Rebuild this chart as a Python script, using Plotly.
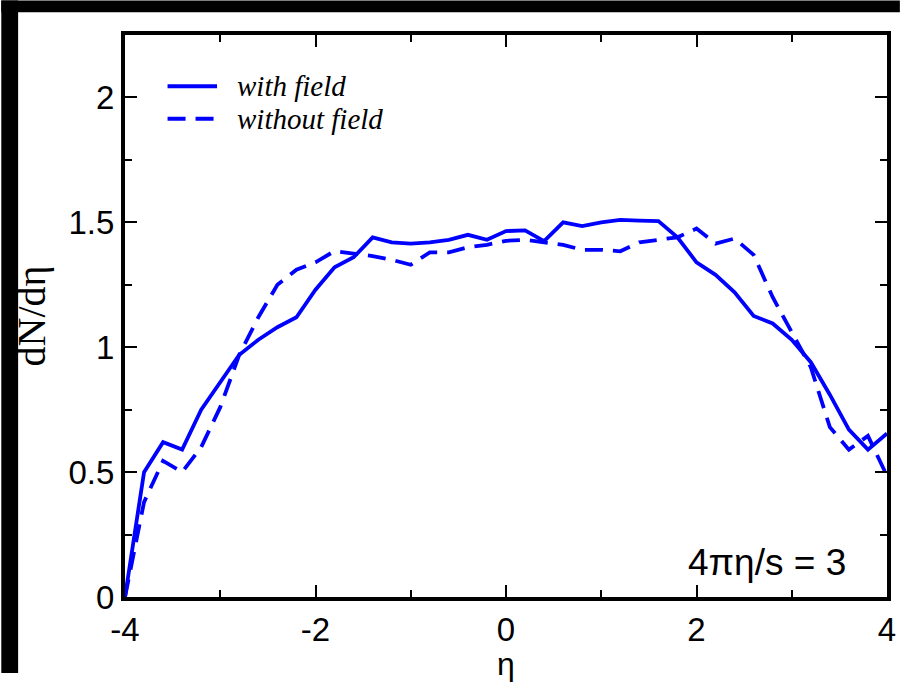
import plotly.graph_objects as go

# ---- data ----
eta = [-4.0, -3.8, -3.6, -3.4, -3.2, -3.0, -2.8, -2.6, -2.4, -2.2, -2.0, -1.8, -1.6, -1.4,
       -1.2, -1.0, -0.8, -0.6, -0.4, -0.2, 0.0, 0.2, 0.4, 0.6, 0.8, 1.0, 1.2, 1.4, 1.6,
       1.8, 2.0, 2.2, 2.4, 2.6, 2.8, 3.0, 3.2, 3.4, 3.6, 3.8, 4.0]
with_field = [0.0, 0.50, 0.62, 0.59, 0.75, 0.86, 0.97, 1.03, 1.08, 1.12, 1.23, 1.32, 1.36, 1.44,
              1.42, 1.415, 1.42, 1.43, 1.45, 1.43, 1.465, 1.468, 1.425, 1.50, 1.485, 1.50, 1.51, 1.507, 1.505,
              1.44, 1.34, 1.29, 1.22, 1.125, 1.095, 1.03, 0.94, 0.81, 0.67, 0.59, 0.655]
without_field = [0.0, 0.38, 0.545, 0.50, 0.60, 0.76, 0.97, 1.12, 1.25, 1.31, 1.34, 1.385, 1.375, 1.365,
                 1.35, 1.33, 1.38, 1.38, 1.40, 1.41, 1.426, 1.43, 1.42, 1.41, 1.39, 1.39, 1.384, 1.42, 1.43,
                 1.44, 1.475, 1.415, 1.435, 1.37, 1.20, 1.06, 0.92, 0.68, 0.59, 0.645, 0.485]
series_names = ["with field", "without field"]
x_ticks = [-4, -2, 0, 2, 4]
y_ticks = [0, 0.5, 1, 1.5, 2]
y_ticklabels = ["0", "0.5", "1", "1.5", "2"]
annotation_text = "4πη/s = 3"

W, H = 908, 682
L, R, T, B = 125, 895, 35, 605   # plot area in pixels


def px(xp):
    return (xp - L) / (R - L)


def py(yp):
    return (B - yp) / (B - T)


BLUE = "#0000ff"
SANS = "Liberation Sans"
SERIF = "Liberation Serif"
fig = go.Figure()
fig.add_trace(go.Scatter(x=eta, y=with_field, mode="lines", name=series_names[0],
                         line=dict(color=BLUE, width=3.8), showlegend=False))
fig.add_trace(go.Scatter(x=eta, y=without_field, mode="lines", name=series_names[1],
                         line=dict(color=BLUE, width=3.8, dash="18px,10px"), showlegend=False))

axis_common = dict(showgrid=False, zeroline=False, showline=True, linecolor="black", linewidth=4,
                   mirror="ticks", ticks="inside", tickcolor="black", tickwidth=1.5, ticklen=12,
                   tickfont=dict(family=SANS, size=33, color="black"))
fig.update_xaxes(range=[-4, 4], tickvals=x_ticks, ticktext=[str(v) for v in x_ticks],
                 minor=dict(dtick=1, ticks="inside", ticklen=7, tickcolor="black", tickwidth=1.5),
                 title=dict(text="η", font=dict(family=SANS, size=32, color="black"), standoff=0),
                 **axis_common)
fig.update_yaxes(range=[0, 2.25], tickvals=y_ticks, ticktext=y_ticklabels,
                 minor=dict(dtick=0.25, ticks="inside", ticklen=7, tickcolor="black", tickwidth=1.5),
                 title=dict(text="dN/dη", font=dict(family=SERIF, size=40, color="black"), standoff=12),
                 **axis_common)

shapes = []
# legend samples
shapes.append(dict(type="line", xref="paper", yref="paper", x0=px(168), x1=px(218), y0=py(87), y1=py(87),
                   line=dict(color=BLUE, width=4)))
shapes.append(dict(type="line", xref="paper", yref="paper", x0=px(168), x1=px(218), y0=py(120), y1=py(120),
                   line=dict(color=BLUE, width=4, dash="18px,10px")))
# black scan borders
shapes.append(dict(type="rect", xref="paper", yref="paper", x0=px(0), x1=px(908), y0=py(12), y1=py(0),
                   fillcolor="black", line=dict(width=0), layer="above"))
shapes.append(dict(type="rect", xref="paper", yref="paper", x0=px(0), x1=px(17), y0=py(682), y1=py(0),
                   fillcolor="black", line=dict(width=0), layer="above"))

annotations = [
    dict(xref="paper", yref="paper", x=px(236), y=py(87), text="with field", showarrow=False,
         xanchor="left", yanchor="middle",
         font=dict(family=SERIF, size=29, color="black", style="italic")),
    dict(xref="paper", yref="paper", x=px(236), y=py(120), text="without field", showarrow=False,
         xanchor="left", yanchor="middle",
         font=dict(family=SERIF, size=29, color="black", style="italic")),
    dict(xref="paper", yref="paper", x=px(856), y=py(570), text=annotation_text, showarrow=False,
         xanchor="right", yanchor="middle",
         font=dict(family=SANS, size=37, color="black")),
]

fig.update_layout(width=W, height=H, margin=dict(l=L, r=W - R, t=T, b=H - B),
                  paper_bgcolor="white", plot_bgcolor="white", shapes=shapes, annotations=annotations,
                  showlegend=False)
fig.write_html("out.html")
